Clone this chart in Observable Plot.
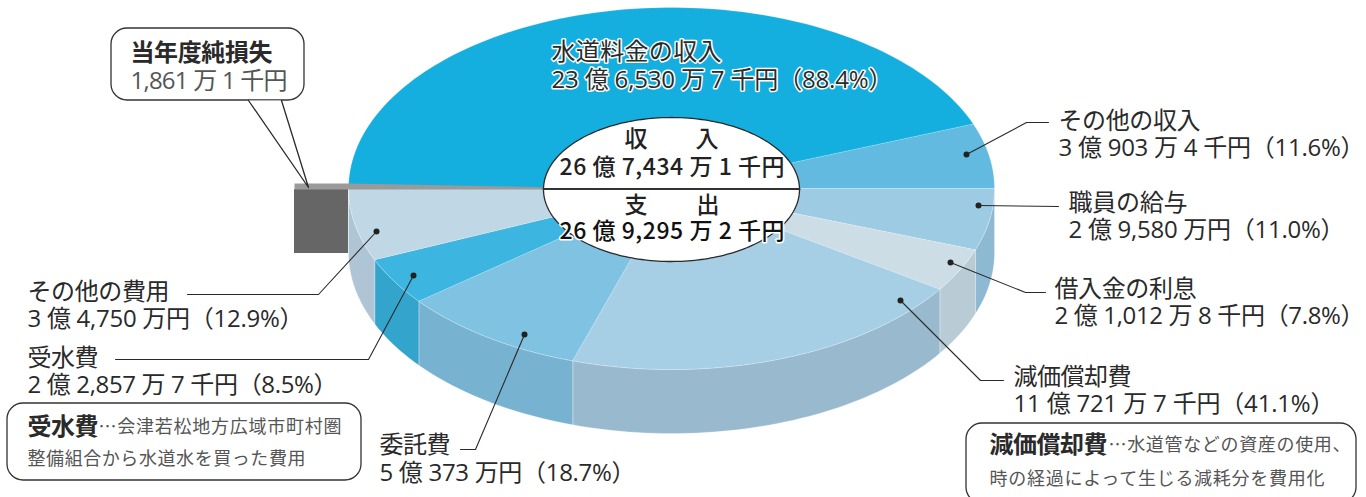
<!DOCTYPE html>
<html lang="ja">
<head>
<meta charset="utf-8">
<script src="https://cdn.jsdelivr.net/npm/d3@7"></script>
<script src="https://cdn.jsdelivr.net/npm/@observablehq/plot@0.6"></script>
<style>
html,body{margin:0;padding:0;background:#fff;overflow:hidden}
svg{display:block}
</style>
</head>
<body>
<div id="chart"></div>
<script>
// Shares, percent of each half of the pie
const incomeNames = ["その他の収入", "水道料金の収入"];
const incomeShares = [11.6, 88.4];
const expenseNames = ["職員の給与", "借入金の利息", "減価償却費", "委託費", "受水費", "その他の費用"];
const expenseShares = [11.0, 7.8, 41.1, 18.7, 8.5, 12.9];

// Colours
const incomeColors = ["#62bae0", "#14afdf"];
const expenseColors = ["#9ccbe3", "#cddde6", "#a6cfe5", "#80c2e1", "#3cb5e0", "#c0d8e5"];
const sideColors = ["#8db9d2", "#b9cbd5", "#99bace", "#77b2d0", "#33a5cd", "#afc5d5"];

// Pie geometry in chart units
const cx = 671, cy = 188, rx = 323, ry = 181, depth = 64;
const ell = (t, dy = 0) => ({
  x: cx + rx * Math.cos(t * Math.PI / 180),
  y: cy + ry * Math.sin(t * Math.PI / 180) + dy
});
const arc = (a, b) => {
  const n = Math.max(2, Math.ceil(Math.abs(b - a) / 1.5));
  return d3.range(n + 1).map(i => a + (b - a) * i / n);
};

// Build slice outlines from the shares
const polygons = [];
let a0 = 0;
incomeNames.forEach((name, i) => {
  const a1 = a0 - incomeShares[i] * 1.8;
  polygons.push(...[{x: cx, y: cy}, ...arc(a0, a1).map(t => ell(t))].map(p => ({...p, key: name})));
  a0 = a1;
});
const sidePolys = [];
a0 = 0;
expenseNames.forEach((name, i) => {
  const a1 = a0 + expenseShares[i] * 1.8;
  const ts = arc(a0, a1);
  polygons.push(...[{x: cx, y: cy}, ...ts.map(t => ell(t))].map(p => ({...p, key: name})));
  sidePolys.push(...[...ts.map(t => ell(t)), ...ts.slice().reverse().map(t => ell(t, depth))]
    .map(p => ({...p, key: name + "側面"})));
  a0 = a1;
});

const keys = [...incomeNames, ...expenseNames, ...expenseNames.map(n => n + "側面")];
const colors = [...incomeColors, ...expenseColors, ...sideColors];

const hub = arc(0, 360).map(t => ({
  x: cx + 128 * Math.cos(t * Math.PI / 180),
  y: cy + 1 + 72 * Math.sin(t * Math.PI / 180)
}));

// Leader lines
const leaderPaths = [
  [[966,154],[1026,122],[1048,122]],
  [[978,205],[1058,206]],
  [[950,262],[1025,292],[1045,292]],
  [[900,300],[980,380],[1003,380]],
  [[524,334],[475,449],[460,449]],
  [[413,275],[368,359],[115,359]],
  [[376,231],[318,294],[187,294]]
];
const leaders = leaderPaths.flatMap((p, id) => p.map(([x, y]) => ({x, y, id})));
const dots = leaderPaths.map(p => ({x: p[0][0], y: p[0][1]}));

// Text rows (w = advance width of the row, including the blank half of a closing bracket)
const ink = "#2a2a2a";
const labels = [
  {t: "その他の収入", x: 1058, y: 121, w: 142},
  {t: "3 億 903 万 4 千円（11.6%）", x: 1058, y: 148, w: 306},
  {t: "職員の給与", x: 1068, y: 203, w: 119},
  {t: "2 億 9,580 万円（11.0%）", x: 1068, y: 230, w: 276},
  {t: "借入金の利息", x: 1054, y: 289, w: 142},
  {t: "2 億 1,012 万 8 千円（7.8%）", x: 1054, y: 316, w: 310},
  {t: "減価償却費", x: 1013, y: 377, w: 119},
  {t: "11 億 721 万 7 千円（41.1%）", x: 1013, y: 404, w: 321},
  {t: "その他の費用", x: 27, y: 292, w: 142},
  {t: "3 億 4,750 万円（12.9%）", x: 27, y: 319, w: 276},
  {t: "受水費", x: 27, y: 358, w: 71},
  {t: "2 億 2,857 万 7 千円（8.5%）", x: 27, y: 385, w: 310},
  {t: "委託費", x: 379, y: 445, w: 71},
  {t: "5 億 373 万円（18.7%）", x: 379, y: 473, w: 256}
];
const haloLabels = [
  {t: "水道料金の収入", x: 551, y: 52, w: 170},
  {t: "23 億 6,530 万 7 千円（88.4%）", x: 551, y: 80, w: 341}
];
const haloCentre = [
  {t: "26 億 9,295 万 2 千円", x: 559, y: 231, w: 225}
];
const boldCentre = [
  {t: "26 億 7,434 万 1 千円", x: 559, y: 167, w: 225},
  {t: "収", x: 624, y: 139, w: 24},
  {t: "入", x: 695, y: 139, w: 24},
  {t: "支", x: 624, y: 205, w: 24},
  {t: "出", x: 696, y: 205, w: 24}
];
const boldNotes = [
  {t: "当年度純損失", x: 130, y: 53, w: 142},
  {t: "受水費", x: 27, y: 427, w: 71},
  {t: "減価償却費", x: 989, y: 445, w: 118}
];
const notes = [
  {t: "1,861 万 1 千円", x: 130, y: 81, w: 157}
];
const smallNotes = [
  {t: "…会津若松地方広域市町村圏", x: 98, y: 427, w: 243},
  {t: "整備組合から水道水を買った費用", x: 27, y: 459, w: 278},
  {t: "…水道管などの資産の使用、", x: 1108, y: 445, w: 242},
  {t: "時の経過によって生じる減耗分を費用化", x: 989, y: 479, w: 335}
];

const latin = "'Open Sans','Noto Sans CJK JP',sans-serif";
const cjk = "'Noto Sans CJK JP',sans-serif";
const textMark = (rows, o) => Plot.text(rows, {
  x: "x", y: "y", text: "t", textAnchor: "start", lineAnchor: "middle",
  fontFamily: latin, ...o
});

const noteBoxes = [
  {x1: 111, x2: 304, y1: 28, y2: 100},
  {x1: 7, x2: 361, y1: 403, y2: 480},
  {x1: 966, x2: 1356, y1: 423, y2: 503}
];

const tail = [{x: 248, y: 100}, {x: 308, y: 187}, {x: 281, y: 100}];
const lossBox = [{x1: 294, x2: 348, y1: 189, y2: 253}];
const lossBand = [{x: 294, y: 183}, {x: 348, y: 183}, {x: 560, y: 187}, {x: 640, y: 189}, {x: 294, y: 189}];
const centreLine = [{x: 543, y: 188.5}, {x: 799, y: 188.5}];

const chart = Plot.plot({
  width: 1366, height: 497, margin: 0,
  style: {background: "#fff"},
  x: {axis: null, domain: [0, 1366], range: [0, 1366]},
  y: {axis: null, domain: [0, 497], range: [0, 497]},
  color: {domain: keys, range: colors},
  marks: [
    Plot.rect(lossBox, {x1: "x1", x2: "x2", y1: "y1", y2: "y2", fill: "#666667"}),
    Plot.line(sidePolys, {x: "x", y: "y", z: "key", fill: "key", stroke: "#fff", strokeOpacity: 0.35, strokeWidth: 0.7, curve: "linear-closed"}),
    Plot.line(polygons, {x: "x", y: "y", z: "key", fill: "key", stroke: "#fff", strokeOpacity: 0.3, strokeWidth: 0.7, curve: "linear-closed"}),
    Plot.line(lossBand, {x: "x", y: "y", fill: "#9a9a9b", stroke: "none", curve: "linear-closed"}),
    Plot.line(hub, {x: "x", y: "y", fill: "#fff", stroke: "#2a2a2a", strokeWidth: 1.3, curve: "linear-closed"}),
    Plot.line(centreLine, {x: "x", y: "y", stroke: "#333", strokeWidth: 2}),
    Plot.line(leaders, {x: "x", y: "y", z: "id", stroke: "#2a2a2a", strokeWidth: 1.1}),
    Plot.dot(dots, {x: "x", y: "y", r: 3, fill: "#222", stroke: "none"}),
    Plot.rect(noteBoxes, {x1: "x1", x2: "x2", y1: "y1", y2: "y2", rx: 16, fill: "#fff", stroke: "#333", strokeWidth: 1.3}),
    Plot.line(tail, {x: "x", y: "y", fill: "#fff", stroke: "none"}),
    Plot.line(tail, {x: "x", y: "y", stroke: "#2a2a2a", strokeWidth: 1.3}),
    textMark(labels, {fontSize: 24, fill: ink}),
    textMark(haloLabels, {fontSize: 24, fill: ink, stroke: "#fff", strokeWidth: 3}),
    textMark(haloCentre, {fontSize: 23, fontWeight: 500, fontFamily: cjk, fill: "#111", stroke: "#fff", strokeWidth: 3}),
    textMark(boldCentre, {fontSize: 23, fontWeight: 500, fontFamily: cjk, fill: "#222"}),
    textMark(boldNotes, {fontSize: 24, fontWeight: 700, fontFamily: cjk, fill: "#2a2a2a"}),
    textMark(notes, {fontSize: 24, fill: "#555"}),
    textMark(smallNotes, {fontSize: 18, fontFamily: cjk, fill: "#555"})
  ]
});
document.getElementById("chart").append(chart);

// Fit each row to the width of its line in the reference
const rowWidths = new Map([...labels, ...haloLabels, ...haloCentre, ...boldCentre, ...boldNotes, ...notes, ...smallNotes].map(d => [d.t, d.w]));
d3.select(chart).selectAll("text").each(function() {
  const w = rowWidths.get(this.textContent);
  if (w && this.textContent.length > 1) {
    this.setAttribute("textLength", w);
    this.setAttribute("lengthAdjust", "spacing");
  }
});
</script>
</body>
</html>
